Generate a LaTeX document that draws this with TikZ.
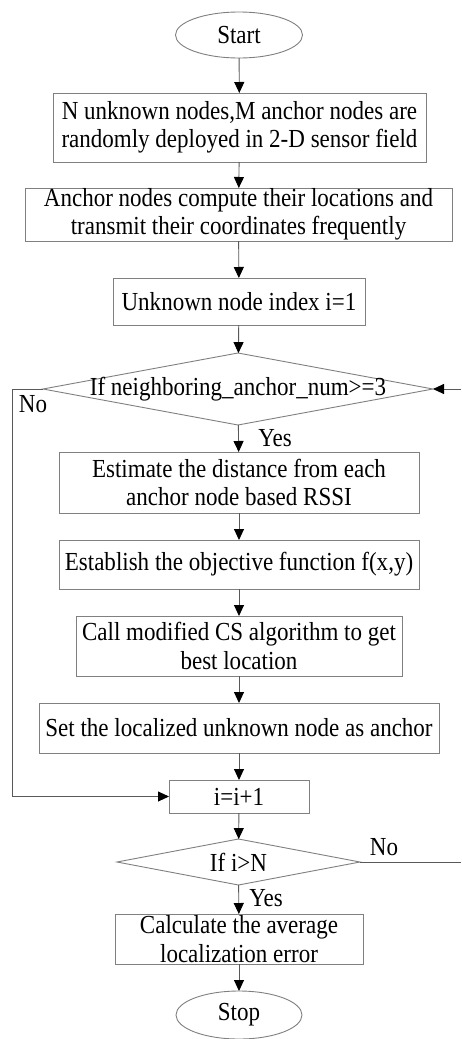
\documentclass[tikz,border=0pt]{standalone}
\usepackage{fontspec}
\setmainfont{Liberation Serif}[FakeStretch=0.885]
\usetikzlibrary{shapes.geometric,arrows.meta}
\begin{document}
\begin{tikzpicture}[x=1pt,y=-1pt,
  every node/.style={font=\fontsize{26}{28.5}\selectfont, inner sep=0pt, outer sep=0pt},
  procbox/.style={draw=black!50, line width=0.9pt, rectangle, align=center},
  term/.style={draw=black!50, line width=0.9pt, ellipse},
  decision/.style={draw=black!50, line width=0.9pt, diamond},
  conn/.style={draw=black!65, line width=0.9pt, -{Triangle[black,length=11pt,width=10pt]}},
  plainconn/.style={draw=black!65, line width=0.9pt},
  lbl/.style={font=\fontsize{26}{28.5}\selectfont}
]
\useasboundingbox (0,0) rectangle (461,1039);
\fill[white] (0,0) rectangle (461,1039);

\node[term, minimum width=127pt, minimum height=46pt] (start) at (239,35) {Start};
\node[procbox, minimum width=373pt, minimum height=69pt] (b1) at (239.5,127.5)
  {N unknown nodes,M anchor nodes are\\randomly deployed in 2-D sensor field};
\node[procbox, minimum width=427pt, minimum height=53pt] (b2) at (238.5,214.5)
  {Anchor nodes compute their locations and\\transmit their coordinates frequently};
\node[procbox, minimum width=252pt, minimum height=47pt] (b3) at (239,301.5)
  {Unknown node index i=1};
\node[decision, minimum width=390pt, minimum height=72pt] (d1) at (238,389)
  {\makebox[0pt][c]{If neighboring\_anchor\_num>=3}};
\node[procbox, minimum width=360pt, minimum height=61pt] (b4) at (239,482.5)
  {Estimate the distance from each\\anchor node based RSSI};
\node[procbox, minimum width=360pt, minimum height=49pt] (b5) at (239,564.5)
  {Establish the objective function f(x,y)};
\node[procbox, minimum width=326pt, minimum height=60pt] (b6) at (239,646)
  {Call modified CS algorithm to get\\best location};
\node[procbox, minimum width=400pt, minimum height=50pt] (b7) at (239,728)
  {Set the localized unknown node as anchor};
\node[procbox, minimum width=140pt, minimum height=33pt] (b8) at (239,796.5)
  {i=i+1};
\node[decision, minimum width=243pt, minimum height=46pt] (d2) at (238.5,862)
  {\makebox[0pt][c]{If i>N}};
\node[procbox, minimum width=248pt, minimum height=50pt] (b9) at (239,939)
  {Calculate the average\\localization error};
\node[term, minimum width=126pt, minimum height=48pt] (stop) at (239,1015) {Stop};

\node[lbl] (yes1) at (275,438) {Yes};
\node[lbl] (no1) at (33,404) {No};
\node[lbl] (no2) at (384,847) {No};
\node[lbl] (yes2) at (266,898) {Yes};

\coordinate (lc1) at (12,389);
\coordinate (lc2) at (12,796.5);
\coordinate (rin) at (461,389);
\coordinate (rout) at (461,862);

\draw[conn] (start) -- (b1);
\draw[conn] (b1) -- (b2);
\draw[conn] (b2) -- (b3);
\draw[conn] (b3) -- (d1);
\draw[conn] (d1) -- (b4);
\draw[conn] (b4) -- (b5);
\draw[conn] (b5) -- (b6);
\draw[conn] (b6) -- (b7);
\draw[conn] (b7) -- (b8);
\draw[conn] (b8) -- (d2);
\draw[conn] (d2) -- (b9);
\draw[conn] (b9) -- (stop);
\draw[conn] (d1.west) -- (lc1) -- (lc2) -- (b8.west);
\draw[conn] (rin) -- (d1.east);
\draw[plainconn] (d2.east) -- (rout);
\end{tikzpicture}
\end{document}
